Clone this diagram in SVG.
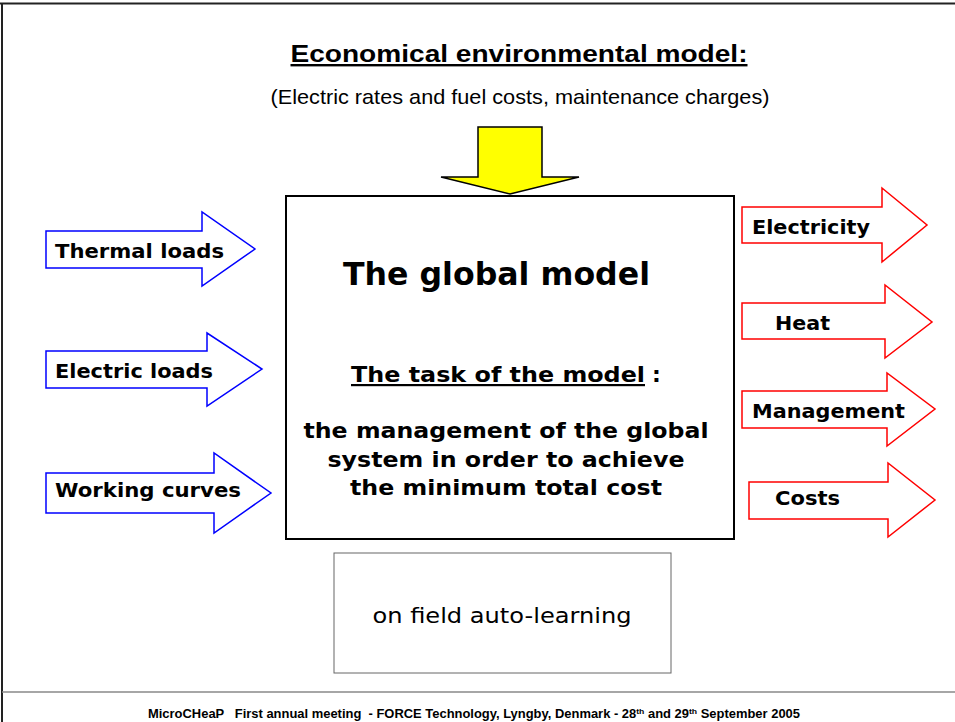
<svg xmlns="http://www.w3.org/2000/svg" width="955" height="722" viewBox="0 0 955 722">
  <style>
    .lbl { font-family: "DejaVu Sans", Verdana, sans-serif; font-weight: bold; fill: #000; }
    .in { fill: #fff; stroke: #0000ff; stroke-width: 1.5; }
    .out { fill: #fff; stroke: #ff0000; stroke-width: 1.5; }
    .narrow { font-family: "Liberation Sans", Arial, sans-serif; fill: #000; }
  </style>
  <rect width="955" height="722" fill="#fff"/>

  <!-- slide frame -->
  <g id="frame" fill="none">
    <line x1="0" y1="3.5" x2="955" y2="3.5" stroke="#222" stroke-width="2"/>
    <line x1="2" y1="3" x2="2" y2="722" stroke="#222" stroke-width="2"/>
    <line x1="2" y1="692" x2="955" y2="692" stroke="#888" stroke-width="1.5"/>
  </g>

  <!-- heading -->
  <g id="heading">
    <text class="narrow" x="519" y="62" font-size="24" font-weight="bold" text-anchor="middle" text-decoration="underline" textLength="457" lengthAdjust="spacingAndGlyphs">Economical environmental model:</text>
    <text class="narrow" x="520" y="104" font-size="21" text-anchor="middle" textLength="499" lengthAdjust="spacingAndGlyphs">(Electric rates and fuel costs, maintenance charges)</text>
  </g>

  <!-- connectors: block arrows -->
  <g id="connectors">
    <polygon id="arrow-economic" points="478,127 542,127 542,177 579,177 510,194 441,177 478,177" fill="#ffff00" stroke="#000" stroke-width="1.5"/>
    <polygon class="in" points="46,231 202,231 202,212 255,249 202,286 202,268 46,268"/>
    <polygon class="in" points="46,351 207,351 207,333 262,369 207,406 207,388 46,388"/>
    <polygon class="in" points="46,473 214,473 214,453 271,493 214,533 214,513 46,513"/>
    <polygon class="out" points="742,207 882,207 882,188 927,225 882,262 882,243 742,243"/>
    <polygon class="out" points="742,303 885,303 885,285 932,322 885,358 885,339 742,339"/>
    <polygon class="out" points="742,391 887,391 887,373 935,409 887,446 887,428 742,428"/>
    <polygon class="out" points="749,482 888,482 888,463 935,500 888,537 888,519 749,519"/>
  </g>

  <!-- inputs -->
  <g id="thermal-loads"><text class="lbl" x="55" y="258" font-size="20" textLength="169" lengthAdjust="spacingAndGlyphs">Thermal loads</text></g>
  <g id="electric-loads"><text class="lbl" x="55" y="378" font-size="20" textLength="158" lengthAdjust="spacingAndGlyphs">Electric loads</text></g>
  <g id="working-curves"><text class="lbl" x="55" y="497" font-size="20" textLength="186" lengthAdjust="spacingAndGlyphs">Working curves</text></g>

  <!-- outputs -->
  <g id="electricity"><text class="lbl" x="752" y="234" font-size="20" textLength="118" lengthAdjust="spacingAndGlyphs">Electricity</text></g>
  <g id="heat"><text class="lbl" x="775" y="330" font-size="20" textLength="55" lengthAdjust="spacingAndGlyphs">Heat</text></g>
  <g id="management"><text class="lbl" x="752" y="418" font-size="20" textLength="153" lengthAdjust="spacingAndGlyphs">Management</text></g>
  <g id="costs"><text class="lbl" x="775" y="505" font-size="20" textLength="65" lengthAdjust="spacingAndGlyphs">Costs</text></g>

  <!-- central model -->
  <g id="global-model">
    <rect x="286" y="196" width="448" height="343" fill="#fff" stroke="#000" stroke-width="2"/>
    <text class="lbl" x="343" y="285" font-size="32" textLength="307" lengthAdjust="spacingAndGlyphs">The global model</text>
    <text class="lbl" x="351" y="382" font-size="22" text-decoration="underline" textLength="294" lengthAdjust="spacingAndGlyphs">The task of the model</text>
    <text class="lbl" x="652" y="382" font-size="22">:</text>
    <text class="lbl" x="506" y="438" font-size="22" text-anchor="middle" textLength="405" lengthAdjust="spacingAndGlyphs">the management of the global</text>
    <text class="lbl" x="506" y="467" font-size="22" text-anchor="middle" textLength="357" lengthAdjust="spacingAndGlyphs">system in order to achieve</text>
    <text class="lbl" x="506" y="495" font-size="22" text-anchor="middle" textLength="312" lengthAdjust="spacingAndGlyphs">the minimum total cost</text>
  </g>

  <!-- learning block -->
  <g id="auto-learning">
    <rect x="334" y="553" width="337" height="120" fill="#fff" stroke="#666" stroke-width="1"/>
    <text x="502" y="623" font-family="DejaVu Sans, Verdana, sans-serif" font-size="22" text-anchor="middle" textLength="259" lengthAdjust="spacingAndGlyphs">on field auto-learning</text>
  </g>

  <!-- footer -->
  <g id="footer">
    <text class="narrow" x="148" y="718" font-size="12" font-weight="bold" textLength="652" lengthAdjust="spacingAndGlyphs" xml:space="preserve">MicroCHeaP   First annual meeting  - FORCE Technology, Lyngby, Denmark - 28<tspan font-size="8" dy="-4">th</tspan><tspan dy="4"> and 29</tspan><tspan font-size="8" dy="-4">th</tspan><tspan dy="4"> September 2005</tspan></text>
  </g>
</svg>
